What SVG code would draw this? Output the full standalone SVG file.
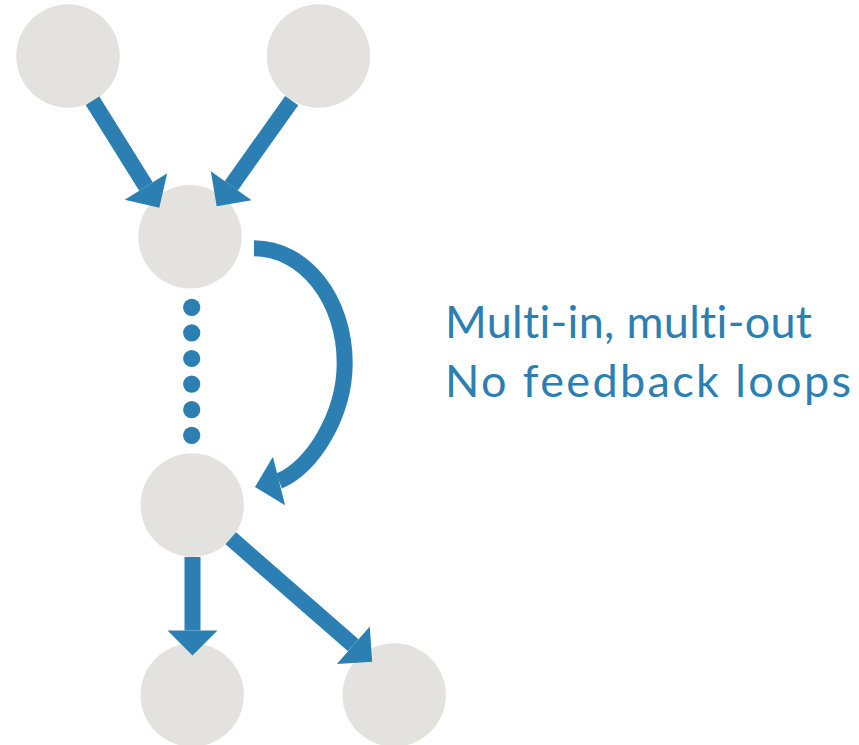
<svg xmlns="http://www.w3.org/2000/svg" width="859" height="745" viewBox="0 0 859 745">
  <style>
    .node { fill: #e3e2de; }
    .shaft { fill: none; stroke: #2c7fb2; stroke-width: 16; stroke-linecap: butt; }
    .head { fill: #2c7fb2; }
    .dot { fill: #2c7fb2; }
    .label { fill: #2c7fb2; font-family: "Lato", "Open Sans", "Liberation Sans", sans-serif; font-size: 45px; font-weight: 400; font-variant-ligatures: none; }
  </style>
  <rect width="859" height="745" fill="#ffffff"/>

  <g id="nodes">
    <g id="node-in-a"><circle class="node" cx="68" cy="56" r="51.7"/></g>
    <g id="node-in-b"><circle class="node" cx="318.5" cy="56" r="51.7"/></g>
    <g id="node-upper"><circle class="node" cx="190" cy="236.7" r="51.7"/></g>
    <g id="node-lower"><circle class="node" cx="192.2" cy="505" r="51.7"/></g>
    <g id="node-out-a"><circle class="node" cx="192.2" cy="695" r="51.7"/></g>
    <g id="node-out-b"><circle class="node" cx="394.2" cy="695" r="51.7"/></g>
  </g>

  <g id="connectors">
    <!-- in-a to upper -->
    <line class="shaft" x1="92.5" y1="100.8" x2="146" y2="186.5"/>
    <polygon class="head" points="124.8,199.8 167.2,173.2 159.3,207.7"/>
    <!-- in-b to upper -->
    <line class="shaft" x1="291.7" y1="100.7" x2="231.2" y2="185.8"/>
    <polygon class="head" points="251.6,200.3 210.8,171.3 216.7,206.2"/>
    <!-- chain of intermediate steps -->
    <g id="chain">
      <circle class="dot" cx="191.7" cy="307.3" r="8.6"/>
      <circle class="dot" cx="191.7" cy="332.9" r="8.6"/>
      <circle class="dot" cx="191.7" cy="358.5" r="8.6"/>
      <circle class="dot" cx="191.7" cy="384.1" r="8.6"/>
      <circle class="dot" cx="191.7" cy="409.7" r="8.6"/>
      <circle class="dot" cx="191.7" cy="435.3" r="8.6"/>
    </g>
    <!-- skip connection from upper to lower -->
    <path class="shaft" d="M254,248.3 C305,248.3 344.7,300 344.7,363 C344.7,415 312,468 279,481"/>
    <polygon class="head" points="285.1,505.3 272.9,456.7 255,487"/>
    <!-- lower to out-a -->
    <line class="shaft" x1="192.5" y1="557" x2="192.5" y2="630.5"/>
    <polygon class="head" points="167.5,630.5 217.5,630.5 192.5,655.5"/>
    <!-- lower to out-b -->
    <line class="shaft" x1="230.8" y1="538.3" x2="353.3" y2="645.3"/>
    <polygon class="head" points="336.9,664.1 369.8,626.5 372.1,661.8"/>
  </g>

  <g id="caption">
    <text class="label" x="445" y="338.3" textLength="367" lengthAdjust="spacing">Multi-in, multi-out</text>
    <text class="label" x="445" y="396.7" textLength="406" lengthAdjust="spacing">No feedback loops</text>
  </g>
</svg>
